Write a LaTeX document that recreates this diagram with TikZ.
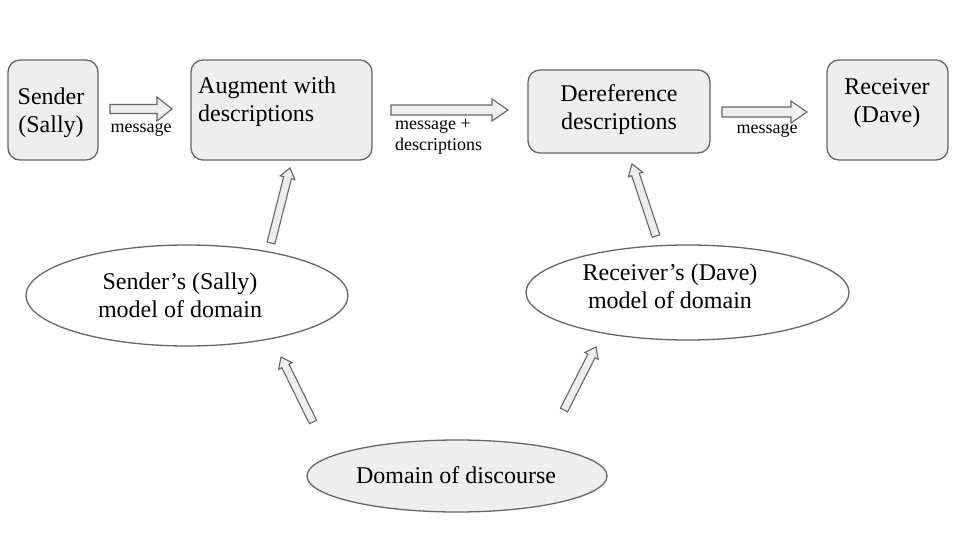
\documentclass[tikz,border=0pt]{standalone}
\usepackage{fontspec}
\setmainfont{Liberation Serif}
\usetikzlibrary{calc,shapes.geometric}
\definecolor{boxfill}{HTML}{EEEEEE}
\definecolor{edgegray}{HTML}{666666}
\tikzset{
  box/.style={draw=edgegray, fill=boxfill, line width=1.3pt, rounded corners=12pt, inner sep=0pt},
  oval/.style={ellipse, draw=edgegray, line width=1.3pt, inner sep=0pt},
  big/.style={font=\fontsize{24}{28}\selectfont, inner sep=0pt},
  small/.style={font=\fontsize{18}{21}\selectfont, inner sep=0pt, align=left},
  blockarr/.style={draw=edgegray, fill=boxfill, line width=1.1pt, line join=miter},
}
% #1 tail, #2 tip, #3 shaft half width, #4 head half width, #5 head length
\newcommand\blockarrow[5]{%
  \coordinate (#1-#2-h) at ($(#2)!#5!(#1)$);
  \draw[blockarr] ($(#1)!#3!90:(#2)$) -- ($(#1-#2-h)!#3!-90:(#1)$)
    -- ($(#1-#2-h)!#4!-90:(#1)$) -- (#2) -- ($(#1-#2-h)!#4!90:(#1)$)
    -- ($(#1-#2-h)!#3!90:(#1)$) -- ($(#1)!#3!-90:(#2)$) -- cycle;}
\begin{document}
\begin{tikzpicture}[x=1pt,y=-1pt]
\useasboundingbox[fill=white] (0,0) rectangle (960,540);

% boxes
\node[box, minimum width=90pt, minimum height=100pt] (sender) at (53,110) {};
\node[big, align=center] (sendertext) at (51,113) {Sender\\(Sally)};
\node[box, minimum width=181pt, minimum height=100pt] (aug) at (281.5,110) {};
\node[big, align=left, anchor=west] (augtext) at (198,101.5) {Augment with\\descriptions};
\node[box, minimum width=182pt, minimum height=83pt] (deref) at (619,111.5) {};
\node[big, align=center] (dereftext) at (619,110) {Dereference\\descriptions};
\node[box, minimum width=121pt, minimum height=100pt] (recv) at (887.5,110) {};
\node[big, align=center] (recvtext) at (887,103) {Receiver\\(Dave)};

% ellipses
\node[oval, minimum width=322pt, minimum height=101pt] (smodel) at (187,295.5) {};
\node[big, align=center] (smodeltext) at (180,295) {Sender’s (Sally)\\model of domain};
\node[oval, minimum width=323pt, minimum height=95pt] (rmodel) at (687.5,292.5) {};
\node[big, align=center] (rmodeltext) at (670,286.5) {Receiver’s (Dave)\\model of domain};
\node[oval, fill=boxfill, minimum width=300pt, minimum height=72pt] (domain) at (457,476) {};
\node[big] (domaintext) at (456,475) {Domain of discourse};

% arrow end points
\coordinate (t1) at (110,109);  \coordinate (p1) at (172,109);
\coordinate (t2) at (391,110);  \coordinate (p2) at (508,110);
\coordinate (t3) at (722,112);  \coordinate (p3) at (807,112);
\coordinate (t4) at (271,243);  \coordinate (p4) at (290,168);
\coordinate (t5) at (656,236);  \coordinate (p5) at (632,164);
\coordinate (t6) at (313,422);  \coordinate (p6) at (281,357);
\coordinate (t7) at (564,410);  \coordinate (p7) at (596,347);

\blockarrow{t1}{p1}{4.5pt}{12pt}{15pt}
\blockarrow{t2}{p2}{5pt}{11pt}{16pt}
\blockarrow{t3}{p3}{5pt}{11pt}{16pt}
\blockarrow{t4}{p4}{4pt}{7.5pt}{10pt}
\blockarrow{t5}{p5}{4pt}{7.5pt}{11pt}
\blockarrow{t6}{p6}{4pt}{7.5pt}{10pt}
\blockarrow{t7}{p7}{4pt}{7.5pt}{10pt}

% labels
\node[small] (l1) at (141,130) {message};
\node[small, anchor=west] (l2) at (395,137) {message +\\descriptions};
\node[small] (l3) at (767,131) {message};
\end{tikzpicture}
\end{document}
